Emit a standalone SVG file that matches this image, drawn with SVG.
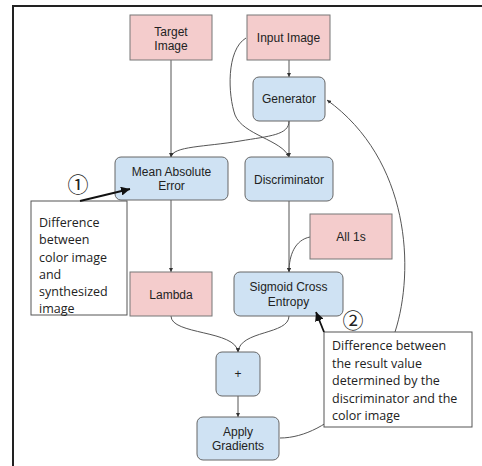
<svg xmlns="http://www.w3.org/2000/svg" width="482" height="466" viewBox="0 0 482 466">
<style>
.pink{fill:#f4cccc;stroke:#777;stroke-width:1}
.blue{fill:#cfe2f3;stroke:#666;stroke-width:1}
.t{font-family:"Liberation Sans",Arial,sans-serif;font-size:12px;fill:#222;text-anchor:middle}
.c{fill:none;stroke:#555;stroke-width:1}
.call{fill:#fff;stroke:#555;stroke-width:1}
.ct{font-family:"Open Sans","Noto Sans",sans-serif;font-size:12.5px;fill:#222}
.num{font-family:"Noto Sans CJK JP","DejaVu Sans",sans-serif;font-size:21px;fill:#222;text-anchor:middle}
.ca{fill:none;stroke:#111;stroke-width:1.8}
</style>
<defs>
<marker id="a" viewBox="0 0 10 10" refX="10" refY="5" markerWidth="4" markerHeight="4" orient="auto"><path d="M0,0L10,5L0,10z" fill="#333"/></marker>
<marker id="b" viewBox="0 0 10 10" refX="10" refY="5" markerWidth="5" markerHeight="5" orient="auto"><path d="M0,0L10,5L0,10z" fill="#111"/></marker>
</defs>
<rect width="482" height="466" fill="#fff"/>
<g id="frame"><path d="M13,466V6H482" fill="none" stroke="#222" stroke-width="2"/></g>
<g id="connectors">
<path class="c" d="M171,60V157" marker-end="url(#a)"/>
<path class="c" d="M289,60V77" marker-end="url(#a)"/>
<path class="c" d="M246,38C226,50 228,95 235,115C243,135 282,140 289,157" marker-end="url(#a)"/>
<path class="c" d="M289,121C289,135 270,136 240,141C205,147 173,146 171,157" marker-end="url(#a)"/>
<path class="c" d="M289,121V157" marker-end="url(#a)"/>
<path class="c" d="M171,200V272" marker-end="url(#a)"/>
<path class="c" d="M289,201V272" marker-end="url(#a)"/>
<path class="c" d="M310,237C295,240 289,255 289,272" marker-end="url(#a)"/>
<path class="c" d="M171,316C171,335 236,330 238,352" marker-end="url(#a)"/>
<path class="c" d="M289,316C289,335 240,330 238,352" marker-end="url(#a)"/>
<path class="c" d="M238,396V417" marker-end="url(#a)"/>
<path class="c" d="M280,438C330,438 380,380 395,332C415,270 410,160 327,100" marker-end="url(#a)"/>
</g>
<g id="target-image"><rect class="pink" x="130" y="15" width="82" height="45"/><text class="t" x="171" y="36">Target</text><text class="t" x="171" y="50">Image</text></g>
<g id="input-image"><rect class="pink" x="247" y="15" width="83" height="45"/><text class="t" x="288.5" y="42">Input Image</text></g>
<g id="generator"><rect class="blue" x="253" y="77" width="72" height="44" rx="6"/><text class="t" x="289" y="103">Generator</text></g>
<g id="mean-absolute-error"><rect class="blue" x="115" y="157" width="113" height="43" rx="6"/><text class="t" x="171.5" y="176">Mean Absolute</text><text class="t" x="171.5" y="190">Error</text></g>
<g id="discriminator"><rect class="blue" x="245" y="157" width="88" height="44" rx="6"/><text class="t" x="289" y="184">Discriminator</text></g>
<g id="all-1s"><rect class="pink" x="310" y="214" width="82" height="45"/><text class="t" x="351" y="241">All 1s</text></g>
<g id="lambda"><rect class="pink" x="130" y="272" width="82" height="44"/><text class="t" x="171" y="299">Lambda</text></g>
<g id="sigmoid-cross-entropy"><rect class="blue" x="234" y="272" width="109" height="44" rx="6"/><text class="t" x="288.5" y="291">Sigmoid Cross</text><text class="t" x="288.5" y="306">Entropy</text></g>
<g id="plus"><rect class="blue" x="216" y="352" width="44" height="44" rx="6"/><text class="t" x="238" y="378">+</text></g>
<g id="apply-gradients"><rect class="blue" x="197" y="417" width="82" height="43" rx="6"/><text class="t" x="238" y="436">Apply</text><text class="t" x="238" y="450">Gradients</text></g>
<g id="callout-1">
<rect class="call" x="31" y="201" width="96" height="114"/>
<text class="ct" x="39" y="227">Difference</text>
<text class="ct" x="39" y="244.3">between</text>
<text class="ct" x="39" y="261.6">color image</text>
<text class="ct" x="39" y="279">and</text>
<text class="ct" x="39" y="296.3">synthesized</text>
<text class="ct" x="39" y="313">image</text>
<text class="num" x="78" y="192">①</text>
<path class="ca" d="M80,201L130,189" marker-end="url(#b)"/>
</g>
<g id="callout-2">
<rect class="call" x="324" y="332" width="148" height="95"/>
<text class="ct" x="332" y="350">Difference between</text>
<text class="ct" x="332" y="367.5">the result value</text>
<text class="ct" x="332" y="385">determined by the</text>
<text class="ct" x="332" y="402.5">discriminator and the</text>
<text class="ct" x="332" y="420">color image</text>
<text class="num" x="353" y="328">②</text>
<path class="ca" d="M324,332L316,312" marker-end="url(#b)"/>
</g>
</svg>
